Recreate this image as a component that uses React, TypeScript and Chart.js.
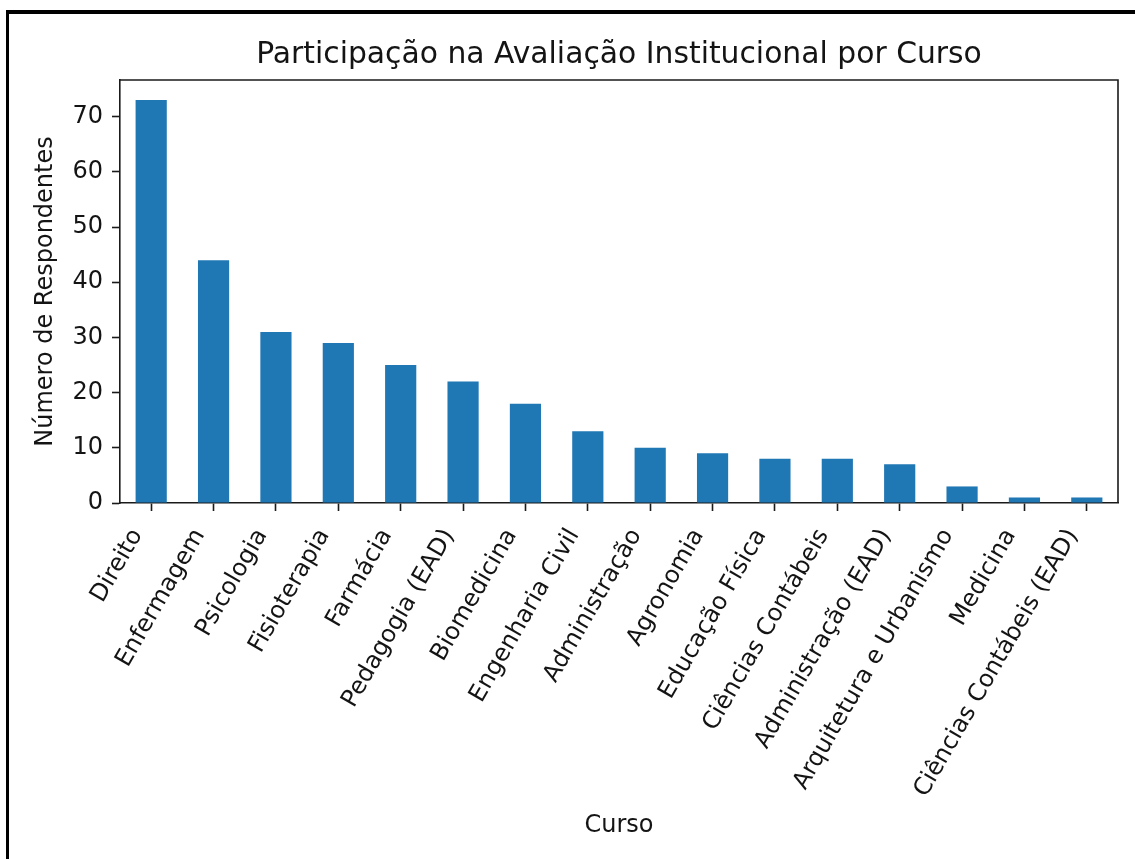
import React, { useEffect, useRef } from "react";
import { Chart, registerables } from "chart.js";

Chart.register(...registerables);

const categories = [
  "Direito",
  "Enfermagem",
  "Psicologia",
  "Fisioterapia",
  "Farmácia",
  "Pedagogia (EAD)",
  "Biomedicina",
  "Engenharia Civil",
  "Administração",
  "Agronomia",
  "Educação Física",
  "Ciências Contábeis",
  "Administração (EAD)",
  "Arquitetura e Urbanismo",
  "Medicina",
  "Ciências Contábeis (EAD)",
];
const respondents = [73, 44, 31, 29, 25, 22, 18, 13, 10, 9, 8, 8, 7, 3, 1, 1];
const yTicks = [0, 10, 20, 30, 40, 50, 60, 70];
const chartTitle = "Participação na Avaliação Institucional por Curso";
const xTitle = "Curso";
const yTitle = "Número de Respondentes";

const FONT = "'DejaVu Sans', sans-serif";
const TEXT = "#141414";
const SPINE = "#1a1a1a";

const framePlugin = {
  id: "frame",
  afterDraw(chart: any) {
    const { ctx, chartArea: a } = chart;
    ctx.save();
    ctx.strokeStyle = SPINE;
    ctx.lineWidth = 1.6;
    ctx.beginPath();
    ctx.moveTo(a.left, a.top);
    ctx.lineTo(a.right, a.top);
    ctx.lineTo(a.right, a.bottom);
    ctx.stroke();
    ctx.restore();
  },
};

export default function App() {
  const ref = useRef<HTMLCanvasElement | null>(null);

  useEffect(() => {
    if (!ref.current) return;
    const yMax = Math.max(...respondents) * 1.05;
    const chart = new Chart(ref.current, {
      type: "bar",
      data: {
        labels: categories,
        datasets: [
          {
            data: respondents,
            backgroundColor: "#1f77b4",
            borderWidth: 0,
            barPercentage: 0.5,
            categoryPercentage: 1.0,
          },
        ],
      },
      options: {
        animation: false,
        responsive: false,
        devicePixelRatio: 1,
        layout: { padding: { left: 0, right: 17, top: 0, bottom: 0 } },
        plugins: {
          legend: { display: false },
          tooltip: { enabled: false },
          title: {
            display: true,
            text: chartTitle,
            fullSize: false,
            color: TEXT,
            font: { family: FONT, size: 29.8, weight: "normal" },
            padding: { top: 37.1, bottom: 7.1 },
          },
        },
        scales: {
          x: {
            type: "category",
            offset: true,
            grid: {
              offset: false,
              drawOnChartArea: false,
              drawTicks: true,
              tickLength: 8,
              tickWidth: 1.6,
              tickColor: SPINE,
            },
            border: { display: true, color: SPINE, width: 1.6 },
            ticks: {
              autoSkip: false,
              minRotation: 60,
              maxRotation: 60,
              padding: 13,
              labelOffset: -14,
              color: TEXT,
              font: { family: FONT, size: 24 },
            },
            title: {
              display: true,
              text: xTitle,
              color: TEXT,
              font: { family: FONT, size: 24 },
              padding: { top: 0, bottom: 18.6 },
            },
            afterFit(scale: any) {
              scale.height = 356;
            },
          },
          y: {
            type: "linear",
            min: 0,
            max: yMax,
            grid: {
              drawOnChartArea: false,
              drawTicks: true,
              tickLength: 8,
              tickWidth: 1.6,
              tickColor: SPINE,
            },
            border: { display: true, color: SPINE, width: 1.6 },
            ticks: {
              padding: 9,
              color: TEXT,
              font: { family: FONT, size: 24 },
            },
            afterBuildTicks(scale: any) {
              scale.ticks = yTicks.map((v) => ({ value: v }));
            },
            title: {
              display: true,
              text: yTitle,
              color: TEXT,
              font: { family: FONT, size: 24 },
              padding: { top: 31.6, bottom: 0 },
            },
            afterFit(scale: any) {
              scale.width = 120;
            },
          },
        },
      },
      plugins: [framePlugin],
    });
    return () => chart.destroy();
  }, []);

  return (
    <div
      style={{
        position: "absolute",
        left: 0,
        top: 0,
        width: 1135,
        height: 859,
        background: "#fff",
        overflow: "hidden",
      }}
    >
      <canvas
        ref={ref}
        width={1135}
        height={859}
        style={{ position: "absolute", left: 0, top: 0, width: 1135, height: 859 }}
      />
      <div
        style={{
          position: "absolute",
          left: 6,
          top: 10,
          right: 0,
          bottom: 0,
          borderTop: "4px solid #000",
          borderLeft: "3px solid #000",
          boxSizing: "border-box",
          pointerEvents: "none",
        }}
      />
    </div>
  );
}
